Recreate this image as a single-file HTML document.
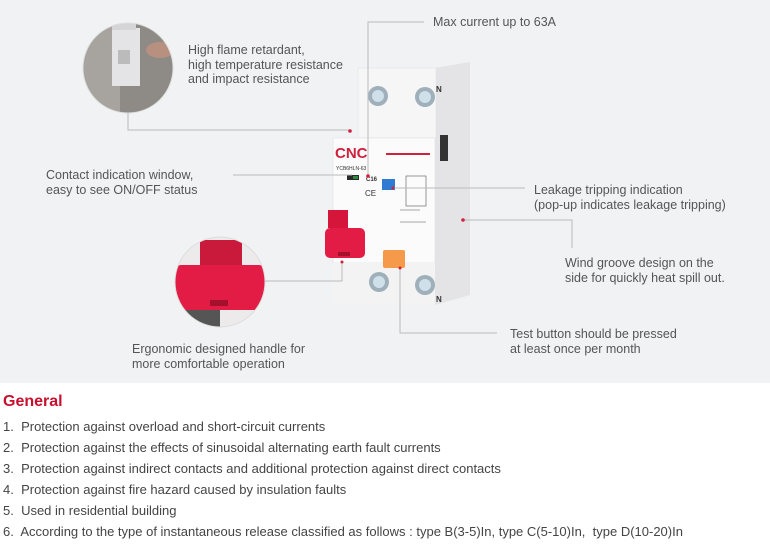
<!DOCTYPE html>
<html><head><meta charset="utf-8"><style>
html,body{margin:0;padding:0;width:770px;height:547px;overflow:hidden;background:#fff;font-family:"Liberation Sans","DejaVu Sans",sans-serif}
.t{position:absolute;font-size:12.5px;line-height:14.5px;color:#555;white-space:nowrap}
#gen{position:absolute;left:3px;top:393px;font-size:16px;font-weight:bold;color:#c8102e}
ol{position:absolute;left:3px;top:416px;margin:0;padding:0;list-style:none;font-size:13px;color:#444}
ol li{height:21px;line-height:21px;white-space:nowrap}
</style></head><body>
<svg width="770" height="547" style="position:absolute;left:0;top:0">
<defs>
<clipPath id="c1"><circle cx="128" cy="68" r="45"/></clipPath>
<clipPath id="c2"><circle cx="220" cy="282" r="45"/></clipPath>
</defs>
<rect x="0" y="0" width="770" height="383" fill="#f1f2f4"/>
<g clip-path="url(#c1)">
<rect x="80" y="20" width="100" height="100" fill="#8e8a86"/>
<rect x="80" y="20" width="40" height="100" fill="#a7a39f"/>
<rect x="112" y="28" width="28" height="58" fill="#e4e4e6"/>
<rect x="118" y="50" width="12" height="14" fill="#bbb"/>
<rect x="112" y="22" width="24" height="8" fill="#d5d5d8"/>
<ellipse cx="160" cy="50" rx="14" ry="8" fill="#b89080"/>
</g>
<circle cx="128" cy="68" r="45" fill="none" stroke="#ddd" stroke-width="1"/>
<g clip-path="url(#c2)">
<rect x="170" y="230" width="110" height="110" fill="#eceaea"/>
<rect x="170" y="300" width="50" height="40" fill="#555"/>
<rect x="200" y="240" width="42" height="30" fill="#c91a3c"/>
<rect x="175" y="265" width="90" height="45" rx="6" fill="#e21c45"/>
<rect x="210" y="300" width="18" height="6" fill="#a5102c"/>
</g>
<circle cx="220" cy="282" r="45" fill="none" stroke="#ddd"/>
<g>
<polygon points="435,68 470,62 470,295 435,305" fill="#e4e4e6"/>
<rect x="358" y="68" width="78" height="70" fill="#f6f6f7" stroke="#e2e2e4" stroke-width="0.6"/>
<rect x="333" y="138" width="102" height="125" fill="#fbfbfb" stroke="#e2e2e4" stroke-width="0.6"/>
<rect x="333" y="263" width="102" height="40" fill="#f3f3f4"/>
<rect x="440" y="135" width="8" height="26" fill="#333"/>
<circle cx="378" cy="96" r="10" fill="#9fb0bb"/><circle cx="378" cy="96" r="6" fill="#cfe0ea"/>
<circle cx="425" cy="97" r="10" fill="#9fb0bb"/><circle cx="425" cy="97" r="6" fill="#cfe0ea"/>
<circle cx="379" cy="282" r="10" fill="#9fb0bb"/><circle cx="379" cy="282" r="6" fill="#cfe0ea"/>
<circle cx="425" cy="285" r="10" fill="#9fb0bb"/><circle cx="425" cy="285" r="6" fill="#cfe0ea"/>
<text x="436" y="92" font-size="8" font-weight="bold" fill="#333">N</text>
<text x="436" y="302" font-size="8" font-weight="bold" fill="#333">N</text>
<text x="335" y="158" font-size="15" font-weight="bold" fill="#d1203e">CNC</text>
<rect x="386" y="153" width="44" height="2" fill="#d1203e"/>
<text x="336" y="170" font-size="5" fill="#333">YCB6HLN-63</text>
<rect x="347" y="175" width="12" height="5" fill="#2a2a2a"/><rect x="353" y="176" width="5" height="3" fill="#2b8a3e"/>
<text x="366" y="181" font-size="6" font-weight="bold" fill="#333">C16</text>
<text x="365" y="196" font-size="8" fill="#333">CE</text>
<rect x="382" y="179" width="13" height="11" fill="#2f7bd1"/>
<rect x="328" y="210" width="20" height="18" fill="#d5163a"/>
<rect x="325" y="228" width="40" height="30" rx="5" fill="#e21c45"/>
<rect x="338" y="252" width="12" height="4" fill="#a5102c"/>
<rect x="383" y="250" width="22" height="18" rx="2" fill="#f59a4a"/>
<g stroke="#555" stroke-width="0.6" fill="none"><rect x="406" y="176" width="20" height="30"/><path d="M400,210h20M400,222h26"/></g>
</g>
<g stroke="#bbb" stroke-width="1" fill="none">
<path d="M128,113V130H350"/>
<path d="M424,22H368V175"/>
<path d="M233,175H352"/>
<path d="M265,281H342V262"/>
<path d="M393,188H525"/>
<path d="M463,220H572V248"/>
<path d="M400,268V333H497"/>
</g>
<g fill="#d1203e"><circle cx="350" cy="131" r="1.8"/><circle cx="368" cy="176" r="1.8"/><circle cx="393" cy="188" r="1.5"/><circle cx="463" cy="220" r="1.8"/><circle cx="400" cy="268" r="1.5"/><circle cx="342" cy="262" r="1.5"/></g>
</svg>
<div class="t" style="left:188px;top:43px">High flame retardant,<br>high temperature resistance<br>and impact resistance</div>
<div class="t" style="left:433px;top:15px">Max current up to 63A</div>
<div class="t" style="left:46px;top:168px">Contact indication window,<br>easy to see ON/OFF status</div>
<div class="t" style="left:534px;top:183px">Leakage tripping indication<br>(pop-up indicates leakage tripping)</div>
<div class="t" style="left:565px;top:256px">Wind groove design on the<br>side for quickly heat spill out.</div>
<div class="t" style="left:510px;top:327px">Test button should be pressed<br>at least once per month</div>
<div class="t" style="left:132px;top:342px">Ergonomic designed handle for<br>more comfortable operation</div>
<div id="gen">General</div>
<ol>
<li>1.&nbsp; Protection against overload and short-circuit currents</li>
<li>2.&nbsp; Protection against the effects of sinusoidal alternating earth fault currents</li>
<li>3.&nbsp; Protection against indirect contacts and additional protection against direct contacts</li>
<li>4.&nbsp; Protection against fire hazard caused by insulation faults</li>
<li>5.&nbsp; Used in residential building</li>
<li>6.&nbsp; According to the type of instantaneous release classified as follows : type B(3-5)In, type C(5-10)In,&nbsp; type D(10-20)In</li>
</ol>
</body></html>
